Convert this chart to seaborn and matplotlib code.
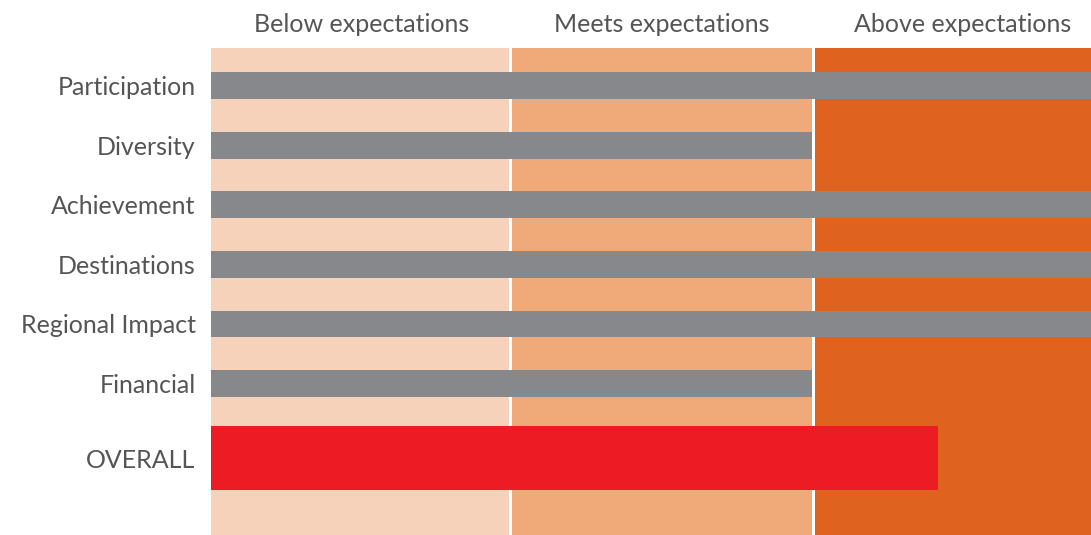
import matplotlib
matplotlib.use("Agg")
import matplotlib.pyplot as plt
import seaborn as sns
import pandas as pd

categories = ["Participation", "Diversity", "Achievement", "Destinations", "Regional Impact", "Financial"]
scores = [3.0, 2.0, 3.0, 3.0, 3.0, 2.0]
overall_label = "OVERALL"
overall_score = 2.42
band_labels = ["Below expectations", "Meets expectations", "Above expectations"]
band_starts = [0.0, 1.0, 2.01]
band_ends = [0.993, 2.0, 3.0]
band_centers = [0.5, 1.5, 2.5]

sns.set_theme(style="white")
plt.rcParams["font.family"] = ["Lato", "DejaVu Sans"]

band_colors = ["#F5D2B9", "#F0A979", "#E0621F"]
gray = "#86888C"
red = "#ED1C24"
text_color = "#555555"

fig = plt.figure(figsize=(10.91, 5.35), dpi=100)
ax = fig.add_axes([211 / 1091, 0, 1 - 211 / 1091, 1 - 48 / 535])

for s, e, c in zip(band_starts, band_ends, band_colors):
    ax.axvspan(s, e, color=c, lw=0, zorder=0)

pos = list(range(len(categories)))
overall_pos = len(categories) - 1 + 1.25
df = pd.DataFrame({"pos": pos, "score": scores})
df2 = pd.DataFrame({"pos": [overall_pos], "score": [overall_score]})

sns.barplot(data=df, x="score", y="pos", orient="h", native_scale=True,
            color=gray, saturation=1, width=0.45, linewidth=0, ax=ax, zorder=2)
sns.barplot(data=df2, x="score", y="pos", orient="h", native_scale=True,
            color=red, saturation=1, width=1.07, linewidth=0, ax=ax, zorder=2)

ax.set_xlim(0, 2.928)
ax.set_ylim(7.54, -0.63)
ax.set_yticks(pos + [overall_pos])
ax.set_yticklabels(categories + [overall_label], fontsize=18, color=text_color)
ax.tick_params(axis="y", length=0, pad=11)

ax.xaxis.tick_top()
ax.set_xticks(band_centers)
ax.set_xticklabels(band_labels, fontsize=18, color=text_color)
ax.tick_params(axis="x", length=0, pad=9)
ax.set_xlabel("")
ax.set_ylabel("")
for sp in ax.spines.values():
    sp.set_visible(False)

fig.savefig("out.png", dpi=100)
